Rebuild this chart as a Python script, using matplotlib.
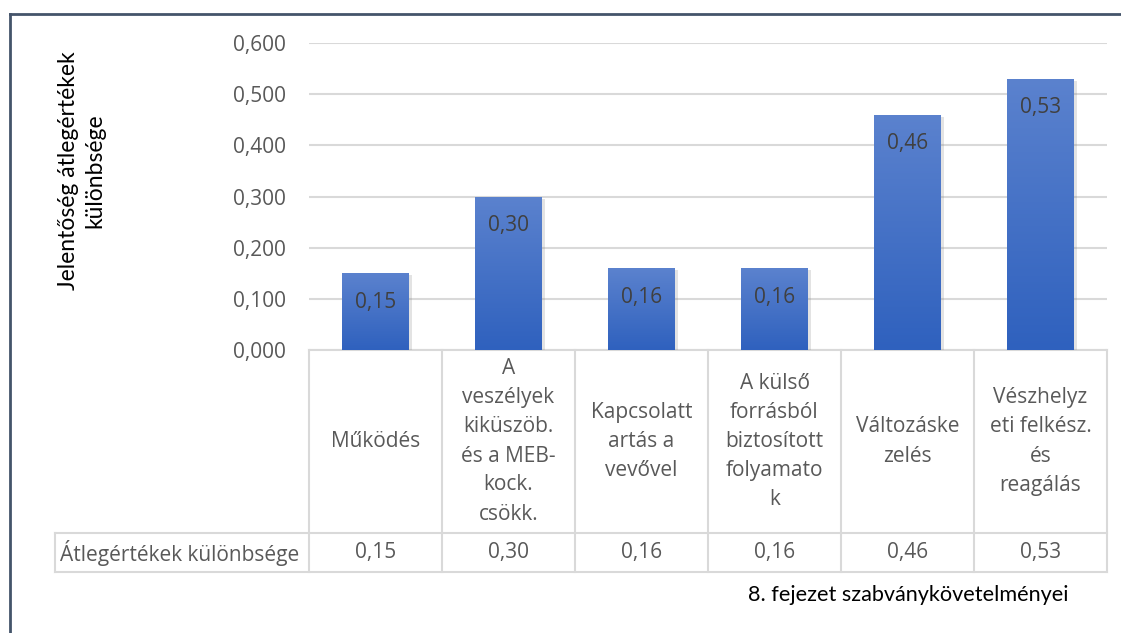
import numpy as np
import matplotlib
matplotlib.use('Agg')
import matplotlib.pyplot as plt
import matplotlib.patheffects as pe
from matplotlib.colors import LinearSegmentedColormap
from matplotlib.lines import Line2D
import matplotlib.transforms as mtransforms

# adatok
categories = ['Működés',
              'A\nveszélyek\nkiküszöb.\nés a MEB-\nkock.\ncsökk.',
              'Kapcsolatt\nartás a\nvevővel',
              'A külső\nforrásból\nbiztosított\nfolyamato\nk',
              'Változáske\nzelés',
              'Vészhelyz\neti felkész.\nés\nreagálás']
values = [0.15, 0.30, 0.16, 0.16, 0.46, 0.53]
y_ticks = [0.0, 0.1, 0.2, 0.3, 0.4, 0.5, 0.6]
row_label = 'Átlegértékek különbsége'
y_title = 'Jelentőség átlegértékek\nkülönbsége'
x_title = '8. fejezet szabványkövetelményei'

W, H = 1121, 633
fig = plt.figure(figsize=(W / 100, H / 100), dpi=100)
fig.patch.set_facecolor('white')

gray = '#595959'
grid_c = '#D9D9D9'
font_main = 'Open Sans'
font_title = 'Lato'

# plot terulet (pixelben mert)
left, right, top, bottom = 309, 1107, 43, 350
ax = fig.add_axes([left / W, 1 - bottom / H, (right - left) / W, (bottom - top) / H])

x = np.arange(len(values))
bars = ax.bar(x, values, width=0.5, color='#4472C4', zorder=3,
              path_effects=[pe.SimplePatchShadow(offset=(2, -1.5), shadow_rgbFace='#808080', alpha=0.22),
                            pe.Normal()])

# szinatmenet a oszlopokon (fent vilagosabb)
cmap = LinearSegmentedColormap.from_list('kek', ['#5B82CE', '#2F61BE'])
grad = np.linspace(1, 0, 256).reshape(-1, 1)
for b in bars:
    bx, by = b.get_x(), b.get_y()
    im = ax.imshow(grad, cmap=cmap, aspect='auto', zorder=4, origin='lower',
                   extent=(bx, bx + b.get_width(), by, by + b.get_height()))
    im.set_clip_path(b)

for xi, v in zip(x, values):
    ax.annotate(f'{v:.2f}'.replace('.', ','), (xi, v), xytext=(0, -29), textcoords='offset pixels',
                ha='center', va='center', fontsize=15, color='#404040', family=font_main, zorder=5)

ax.set_xlim(-0.5, len(values) - 0.5)
ax.set_ylim(0, 0.6)
ax.set_yticks(y_ticks)
ax.set_yticklabels([f'{t:.3f}'.replace('.', ',') for t in y_ticks], fontsize=15, color=gray, family=font_main)
ax.tick_params(axis='y', length=0, pad=16.5)
ax.set_xticks([])
ax.grid(axis='y', color=grid_c, linewidth=1.5, zorder=0)
for s in ax.spines.values():
    s.set_visible(False)

# tablazat az x tengely alatt
tr = mtransforms.blended_transform_factory(ax.transData, ax.transAxes)
ax_h = bottom - top
row1 = -(533 - bottom) / ax_h
row2 = -(572 - bottom) / ax_h
lab_left = -0.5 - (left - 55) / ((right - left) / len(values))

def hline(x0, x1, y):
    ax.add_line(Line2D([x0, x1], [y, y], transform=tr, color=grid_c, lw=1.5, clip_on=False, zorder=2))

def vline(xx, y0, y1):
    ax.add_line(Line2D([xx, xx], [y0, y1], transform=tr, color=grid_c, lw=1.5, clip_on=False, zorder=2))

hline(-0.5, len(values) - 0.5, 0)
hline(lab_left, len(values) - 0.5, row1)
hline(lab_left, len(values) - 0.5, row2)
for i in range(len(values) + 1):
    vline(i - 0.5, row2, 0)
vline(lab_left, row2, row1)

for xi, cat, v in zip(x, categories, values):
    ax.text(xi, row1 / 2, cat, transform=tr, ha='center', va='center', fontsize=15, color=gray,
            family=font_main, linespacing=1.5, clip_on=False)
    ax.text(xi, (row1 + row2) / 2, f'{v:.2f}'.replace('.', ','), transform=tr, ha='center', va='center',
            fontsize=15, color=gray, family=font_main, clip_on=False)

ax.text(lab_left + 0.04, (row1 + row2) / 2, row_label, transform=tr, ha='left', va='center',
        fontsize=15, color=gray, family=font_main, clip_on=False)

# tengelycimek
fig.text(82 / W, 1 - 171 / H, y_title, rotation=90, ha='center', va='center', fontsize=16.5,
         color='black', family=font_title, linespacing=1.3)
fig.text(908 / W, 1 - 595 / H, x_title, ha='center', va='center', fontsize=15.6,
         color='black', family=font_title)

# keret
fig.add_artist(Line2D([9.5 / W, 9.5 / W], [0, 1 - 13.5 / H], transform=fig.transFigure, color='#44546A', lw=2))
fig.add_artist(Line2D([9.5 / W, 1], [1 - 13.5 / H, 1 - 13.5 / H], transform=fig.transFigure, color='#44546A', lw=2))

fig.savefig('out.png', dpi=100)
